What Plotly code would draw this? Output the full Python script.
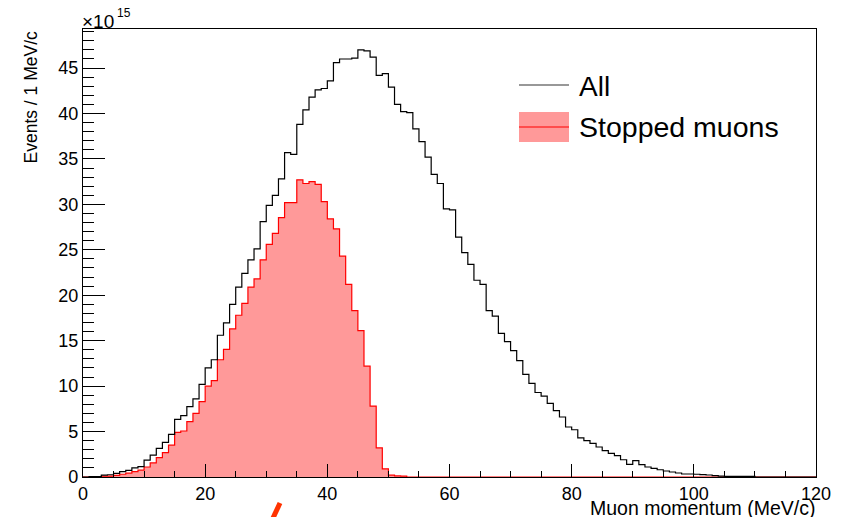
import plotly.graph_objects as go

# ---------------- data (units of 1e15 events per 1 MeV/c bin) ----------------
bin_edges = list(range(0, 121))  # 1 MeV/c bins from 0 to 120

all_counts = [
    0.0, 0.05, 0.05, 0.2, 0.25, 0.4, 0.6, 0.73, 1.0, 1.15,
    1.85, 2.4, 3.15, 3.8, 4.7, 6.35, 6.75, 7.75, 8.6, 10.2,
    12.0, 12.9, 15.6, 16.95, 19.0, 20.9, 22.4, 23.9, 25.1, 28.1,
    29.9, 31.0, 32.8, 35.7, 35.5, 38.8, 40.4, 41.8, 42.6, 42.75,
    43.6, 45.6, 46.0, 46.0, 46.1, 47.0, 46.9, 46.2, 44.2, 44.4,
    42.9, 41.0, 40.2, 40.1, 38.3, 36.9, 35.2, 33.3, 32.3, 29.5,
    29.4, 26.4, 24.7, 23.4, 21.65, 21.2, 18.3, 17.7, 15.8, 14.9,
    13.9, 12.8, 11.3, 10.3, 9.3, 8.9, 8.1, 7.3, 6.6, 5.5,
    5.2, 4.3, 4.0, 3.7, 3.3, 2.9, 2.6, 2.35, 1.9, 1.4,
    1.8, 1.36, 1.1, 0.95, 0.8, 0.66, 0.55, 0.44, 0.33, 0.33,
    0.3, 0.26, 0.22, 0.15, 0.1, 0.07, 0.07, 0.07, 0.07, 0.07,
    0.0, 0.0, 0.0, 0.0, 0.0, 0.0, 0.0, 0.0, 0.0, 0.0,
]

stopped_counts = [
    0.0, 0.0, 0.0, 0.1, 0.1, 0.18, 0.3, 0.42, 0.6, 0.75,
    1.1, 1.55, 2.13, 2.68, 3.5, 4.9, 5.06, 6.1, 7.0, 8.3,
    10.0, 10.6, 12.9, 14.05, 16.3, 17.8, 19.1, 20.9, 21.8, 23.9,
    25.6, 26.8, 28.55, 30.2, 30.2, 32.7, 32.3, 32.5, 32.2, 30.3,
    28.4, 27.3, 24.3, 21.2, 18.3, 16.1, 12.2, 7.8, 3.2, 0.9,
    0.2, 0.12, 0.1, 0.0, 0.0, 0.0, 0.0, 0.0, 0.0, 0.0,
    0.0, 0.0, 0.0, 0.0, 0.0, 0.0, 0.0, 0.0, 0.0, 0.0,
    0.0, 0.0, 0.0, 0.0, 0.0, 0.0, 0.0, 0.0, 0.0, 0.0,
    0.0, 0.0, 0.0, 0.0, 0.0, 0.0, 0.0, 0.0, 0.0, 0.0,
    0.0, 0.0, 0.0, 0.0, 0.0, 0.0, 0.0, 0.0, 0.0, 0.0,
    0.0, 0.0, 0.0, 0.0, 0.0, 0.0, 0.0, 0.0, 0.0, 0.0,
    0.0, 0.0, 0.0, 0.0, 0.0, 0.0, 0.0, 0.0, 0.0, 0.0,
]

x_tick_vals = [0, 20, 40, 60, 80, 100, 120]
x_tick_text = ["0", "20", "40", "60", "80", "100", "120"]
y_tick_vals = [0, 5, 10, 15, 20, 25, 30, 35, 40, 45]
y_tick_text = ["0", "5", "10", "15", "20", "25", "30", "35", "40", "45"]

legend_labels = ["All", "Stopped muons"]
x_title = "Muon momentum (MeV/c)"
y_title = "Events / 1 MeV/c"
exponent_base = "×10"
exponent_power = "15"

# ---------------- layout geometry (page pixels) ----------------
W, H = 846, 517
OFF = 8  # page body margin offset
L, R, T, B = 83, 816, 29, 477
FONT = "Liberation Sans, Arial, Helvetica, sans-serif"


def px(x):
    return (x - L) / (R - L)


def py(y):
    return (B - y) / (B - T)


fig = go.Figure()

fig.add_trace(go.Scatter(
    x=bin_edges, y=stopped_counts + [stopped_counts[-1]],
    mode="lines", line=dict(color="#ff0000", width=1.2, shape="hv"),
    fill="tozeroy", fillcolor="#ff9999",
    name=legend_labels[1], showlegend=False, hoverinfo="skip",
))
fig.add_trace(go.Scatter(
    x=bin_edges, y=all_counts + [all_counts[-1]],
    mode="lines", line=dict(color="#000000", width=1.2, shape="hv"),
    name=legend_labels[0], showlegend=False, hoverinfo="skip",
))

axis_common = dict(
    showline=True, linecolor="black", linewidth=1.2, mirror=True,
    ticks="inside", tickcolor="black", tickwidth=1,
    showgrid=False, zeroline=False, layer="above traces",
    tickfont=dict(family=FONT, size=18, color="black"),
)

fig.update_xaxes(
    range=[0, 120], tickmode="array", tickvals=x_tick_vals, ticktext=x_tick_text,
    ticklen=13,
    minor=dict(dtick=5, ticks="inside", ticklen=6, tickcolor="black", showgrid=False),
    **axis_common,
)
fig.update_yaxes(
    range=[0, 49.3], tickmode="array", tickvals=y_tick_vals, ticktext=y_tick_text,
    ticklen=22,
    minor=dict(dtick=1, ticks="inside", ticklen=11, tickcolor="black", showgrid=False),
    **axis_common,
)

annotations = [
    dict(text=exponent_base, x=px(80), y=py(21), xanchor="left", yanchor="middle",
         font=dict(family=FONT, size=19, color="black")),
    dict(text=exponent_power, x=px(115), y=py(13), xanchor="left", yanchor="middle",
         font=dict(family=FONT, size=12, color="black")),
    dict(text=y_title, x=px(30), y=py(29), xanchor="center", yanchor="top", textangle=-90,
         font=dict(family=FONT, size=17.5, color="black")),
    dict(text=x_title, x=px(817), y=py(508), xanchor="right", yanchor="middle",
         font=dict(family=FONT, size=19.5, color="black")),
    dict(text=legend_labels[0], x=px(577), y=py(86), xanchor="left", yanchor="middle",
         font=dict(family=FONT, size=28, color="black")),
    dict(text=legend_labels[1], x=px(577), y=py(127), xanchor="left", yanchor="middle",
         font=dict(family=FONT, size=28.5, color="black")),
]
for a in annotations:
    a.update(xref="paper", yref="paper", showarrow=False)

shapes = [
    dict(type="line", x0=px(519), x1=px(569), y0=py(85), y1=py(85),
         line=dict(color="#333333", width=1.2)),
    dict(type="rect", x0=px(519), x1=px(569), y0=py(112), y1=py(142),
         fillcolor="#ff9999", line=dict(width=0)),
    dict(type="line", x0=px(519), x1=px(569), y0=py(127), y1=py(127),
         line=dict(color="#ff0000", width=1.2)),
    dict(type="line", x0=px(280), x1=px(273), y0=py(503), y1=py(518),
         line=dict(color="#ff3300", width=5)),
]
for s in shapes:
    s.update(xref="paper", yref="paper")

fig.update_layout(
    width=W - OFF, height=H - OFF,
    margin=dict(l=L - OFF, r=W - R, t=T - OFF, b=H - B),
    paper_bgcolor="white", plot_bgcolor="white",
    annotations=annotations, shapes=shapes,
    showlegend=False,
    font=dict(family=FONT, color="black"),
)

fig.write_html("out.html")
